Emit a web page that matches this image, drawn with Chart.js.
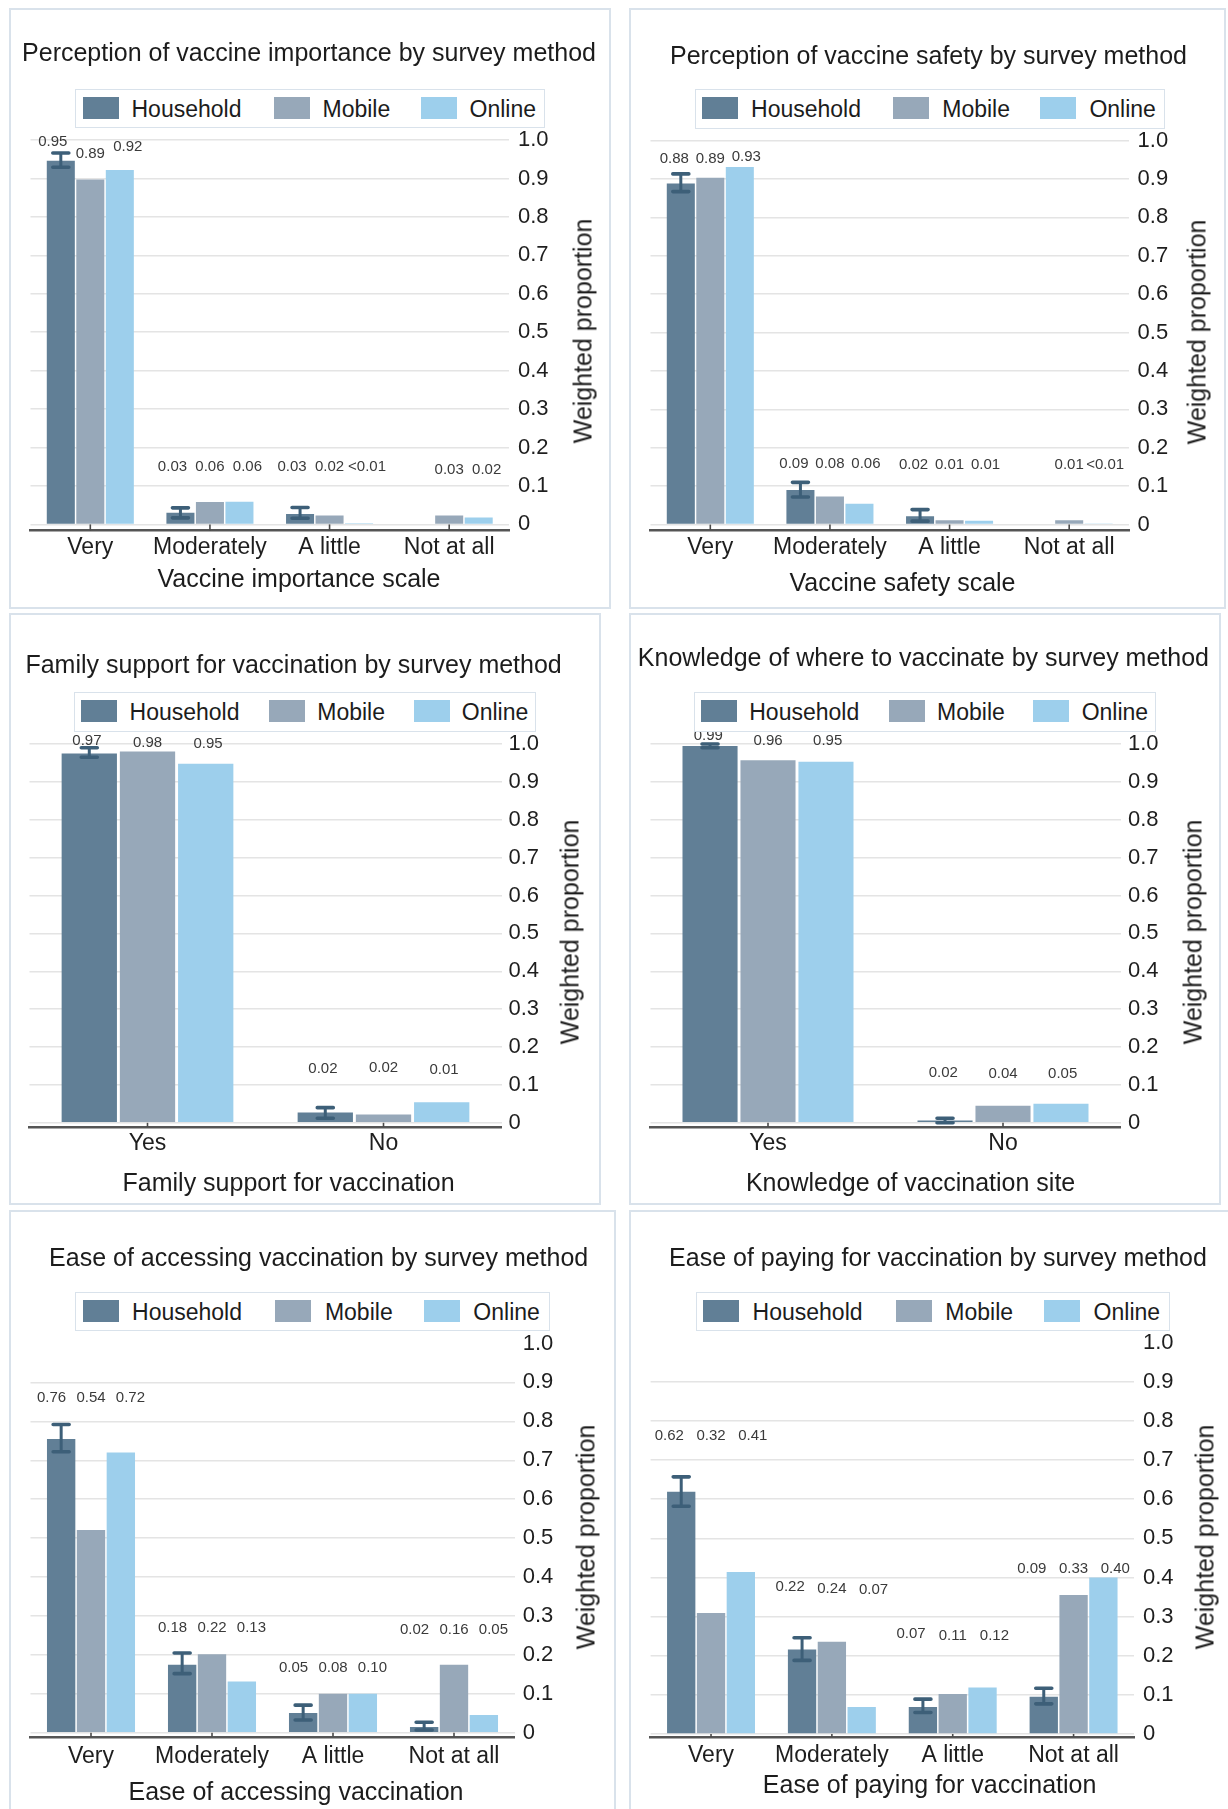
<!DOCTYPE html>
<html>
<head>
<meta charset="utf-8">
<script src="https://cdn.jsdelivr.net/npm/chart.js@4.4.1/dist/chart.umd.min.js"></script>
<style>
html,body{margin:0;padding:0;background:#fff;overflow:hidden;}
#page{position:relative;width:1228px;height:1809px;overflow:hidden;font-family:"Liberation Sans",Arial,sans-serif;background:#fff;}
.frame{position:absolute;border:2px solid #d9e2eb;box-sizing:border-box;}
canvas{position:absolute;}
.t{position:absolute;white-space:nowrap;line-height:1;color:#1c1c1c;}
.legend{position:absolute;border:1.5px solid #d9e2eb;box-sizing:border-box;background:#fff;}
.sw{position:absolute;width:36px;height:22px;}
.lt{position:absolute;white-space:nowrap;line-height:1;font-size:23px;color:#1c1c1c;}
</style>
</head>
<body>
<div id="page"></div>
<script>
// ---------------- DATA ----------------
const surveyMethods = ['Household', 'Mobile', 'Online'];
const yTicks = [0, 0.1, 0.2, 0.3, 0.4, 0.5, 0.6, 0.7, 0.8, 0.9, 1.0];
const scaleCategories = ['Very', 'Moderately', 'A little', 'Not at all'];
const yesNoCategories = ['Yes', 'No'];

// Panel 1 - vaccine importance
const importanceHousehold     = [0.946, 0.030, 0.027, 0];
const importanceHouseholdLow  = [0.929, 0.017, 0.016, null];
const importanceHouseholdHigh = [0.966, 0.043, 0.044, null];
const importanceMobile        = [0.897, 0.058, 0.023, 0.023];
const importanceOnline        = [0.922, 0.059, 0.003, 0.018];
const importanceLabelsHousehold = ['0.95', '0.03', '0.03', ''];
const importanceLabelsMobile    = ['0.89', '0.06', '0.02', '0.03'];
const importanceLabelsOnline    = ['0.92', '0.06', '<0.01', '0.02'];
const importanceLabelLevel = [[0.995, 0.964, 0.983], 0.150, 0.150, 0.142];

// Panel 2 - vaccine safety
const safetyHousehold     = [0.888, 0.090, 0.022, 0];
const safetyHouseholdLow  = [0.867, 0.072, 0.009, null];
const safetyHouseholdHigh = [0.913, 0.110, 0.039, null];
const safetyMobile        = [0.903, 0.073, 0.011, 0.011];
const safetyOnline        = [0.931, 0.054, 0.010, 0.003];
const safetyLabelsHousehold = ['0.88', '0.09', '0.02', ''];
const safetyLabelsMobile    = ['0.89', '0.08', '0.01', '0.01'];
const safetyLabelsOnline    = ['0.93', '0.06', '0.01', '<0.01'];
const safetyLabelLevel = [[0.952, 0.952, 0.958], 0.157, 0.155, 0.155];

// Panel 3 - family support
const familyHousehold     = [0.975, 0.027];
const familyHouseholdLow  = [0.965, 0.012];
const familyHouseholdHigh = [0.990, 0.040];
const familyMobile        = [0.980, 0.022];
const familyOnline        = [0.948, 0.054];
const familyLabelsHousehold = ['0.97', '0.02'];
const familyLabelsMobile    = ['0.98', '0.02'];
const familyLabelsOnline    = ['0.95', '0.01'];
const familyLabelLevel = [[1.007, 1.003, 1.0], [0.143, 0.146, 0.141]];

// Panel 4 - knowledge of vaccination site
const siteHousehold     = [0.995, 0.006];
const siteHouseholdLow  = [0.990, 0.000];
const siteHouseholdHigh = [1.000, 0.012];
const siteMobile        = [0.957, 0.045];
const siteOnline        = [0.953, 0.050];
const siteLabelsHousehold = ['0.99', '0.02'];
const siteLabelsMobile    = ['0.96', '0.04'];
const siteLabelsOnline    = ['0.95', '0.05'];
const siteLabelLevel = [[1.022, 1.008, 1.008], [0.133, 0.130, 0.130]];

// Panel 5 - ease of access
const accessHousehold     = [0.755, 0.175, 0.051, 0.015];
const accessHouseholdLow  = [0.722, 0.152, 0.033, 0.007];
const accessHouseholdHigh = [0.792, 0.205, 0.071, 0.027];
const accessMobile        = [0.521, 0.202, 0.100, 0.175];
const accessOnline        = [0.720, 0.132, 0.100, 0.046];
const accessLabelsHousehold = ['0.76', '0.18', '0.05', '0.02'];
const accessLabelsMobile    = ['0.54', '0.22', '0.08', '0.16'];
const accessLabelsOnline    = ['0.72', '0.13', '0.10', '0.05'];
const accessLabelLevel = [0.860, 0.269, 0.166, 0.264];

// Panel 6 - ease of paying
const payHousehold     = [0.619, 0.216, 0.069, 0.095];
const payHouseholdLow  = [0.582, 0.188, 0.055, 0.077];
const payHouseholdHigh = [0.657, 0.246, 0.089, 0.117];
const payMobile        = [0.309, 0.236, 0.102, 0.355];
const payOnline        = [0.414, 0.069, 0.119, 0.400];
const payLabelsHousehold = ['0.62', '0.22', '0.07', '0.09'];
const payLabelsMobile    = ['0.32', '0.24', '0.11', '0.33'];
const payLabelsOnline    = ['0.41', '0.07', '0.12', '0.40'];
const payLabelLevel = [0.761, [0.375, 0.370, 0.367], [0.255, 0.251, 0.251], 0.423];

// ---------------- STYLE ----------------
const FONT = '"Liberation Sans", Arial, sans-serif';
const seriesColors = ['#617f96', '#97a8b9', '#9dcfec'];
const errColor = '#3d5f78';
const gridColor = '#e4e4e4';
const axisColor = '#555555';
const textColor = '#1e1e1e';

// ---------------- PANELS (layout in page pixels) ----------------
const panels = [
  { frame:[10,9,610,608], canvas:[10,9,610,608], plot:{l:30.5,r:509,y1:140,y0:524.4,axis:530.5}, topGrid:true, catPad:3.7, yPad:9, spread:1.27,
    title:'Perception of vaccine importance by survey method', titleX:309, titleBase:61,
    legend:[75,88.7,470,39.7], xTitle:'Vaccine importance scale', xTitleX:299, xTitleBase:587, yTitleX:583,
    cats:scaleCategories, series:[importanceHousehold, importanceMobile, importanceOnline],
    lo:importanceHouseholdLow, hi:importanceHouseholdHigh,
    labels:[importanceLabelsHousehold, importanceLabelsMobile, importanceLabelsOnline], levels:importanceLabelLevel },
  { frame:[630,9,1225,608], canvas:[630,9,1226,608], plot:{l:650.5,r:1129,y1:140.5,y0:524.6,axis:530}, topGrid:true, catPad:3.7, yPad:8.6, spread:1.22,
    title:'Perception of vaccine safety by survey method', titleX:928.5, titleBase:64,
    legend:[694.5,89,470.5,39.5], xTitle:'Vaccine safety scale', xTitleX:902.5, xTitleBase:591, yTitleX:1197,
    cats:scaleCategories, series:[safetyHousehold, safetyMobile, safetyOnline],
    lo:safetyHouseholdLow, hi:safetyHouseholdHigh,
    labels:[safetyLabelsHousehold, safetyLabelsMobile, safetyLabelsOnline], levels:safetyLabelLevel },
  { frame:[10,614,600,1204], canvas:[10,614,600,1204], plot:{l:29.5,r:501.5,y1:744,y0:1122.8,axis:1127}, topGrid:true, catPad:2.5, yPad:7, spread:1.04,
    title:'Family support for vaccination by survey method', titleX:293.6, titleBase:673,
    legend:[74,692,462,39.7], xTitle:'Family support for vaccination', xTitleX:288.6, xTitleBase:1191, yTitleX:569.5,
    cats:yesNoCategories, series:[familyHousehold, familyMobile, familyOnline],
    lo:familyHouseholdLow, hi:familyHouseholdHigh,
    labels:[familyLabelsHousehold, familyLabelsMobile, familyLabelsOnline], levels:familyLabelLevel },
  { frame:[630,614,1220,1204], canvas:[630,614,1221,1204], plot:{l:650.5,r:1120.5,y1:744,y0:1122.8,axis:1127}, topGrid:true, catPad:2.5, yPad:7.5, spread:1.03,
    title:'Knowledge of where to vaccinate by survey method', titleX:923.4, titleBase:666.6,
    legend:[693.7,692,462.2,39.7], xTitle:'Knowledge of vaccination site', xTitleX:910.6, xTitleBase:1191, yTitleX:1193,
    cats:yesNoCategories, series:[siteHousehold, siteMobile, siteOnline],
    lo:siteHouseholdLow, hi:siteHouseholdHigh,
    labels:[siteLabelsHousehold, siteLabelsMobile, siteLabelsOnline], levels:siteLabelLevel },
  { frame:[10,1211,615,1840], canvas:[10,1210,615,1809], plot:{l:30.5,r:514.5,y1:1343.5,y0:1732.8,axis:1736.8}, topGrid:false, catPad:6.2, yPad:8.2, spread:1.32,
    title:'Ease of accessing vaccination by survey method', titleX:318.7, titleBase:1266,
    legend:[75,1292,474.6,39.2], xTitle:'Ease of accessing vaccination', xTitleX:296, xTitleBase:1800, yTitleX:586,
    cats:scaleCategories, series:[accessHousehold, accessMobile, accessOnline],
    lo:accessHouseholdLow, hi:accessHouseholdHigh,
    labels:[accessLabelsHousehold, accessLabelsMobile, accessLabelsOnline], levels:accessLabelLevel },
  { frame:[630,1211,1260,1840], canvas:[630,1210,1228,1809], plot:{l:650.6,r:1134,y1:1342.6,y0:1734,axis:1737}, topGrid:false, catPad:5.2, yPad:9, spread:1.4,
    title:'Ease of paying for vaccination by survey method', titleX:938, titleBase:1266,
    legend:[695.6,1292,474.2,39.2], xTitle:'Ease of paying for vaccination', xTitleX:929.6, xTitleBase:1793, yTitleX:1205,
    cats:scaleCategories, series:[payHousehold, payMobile, payOnline],
    lo:payHouseholdLow, hi:payHouseholdHigh,
    labels:[payLabelsHousehold, payLabelsMobile, payLabelsOnline], levels:payLabelLevel }
];

// legend item offsets for a 470px-wide legend box
const legendSwatchOffsets = [8, 199, 346];
const legendTextOffsets = [57, 248, 395];

Chart.defaults.font.family = FONT;

const page = document.getElementById('page');

function el(tag, cls, styles, text) {
  const e = document.createElement(tag);
  if (cls) e.className = cls;
  Object.assign(e.style, styles || {});
  if (text !== undefined) e.textContent = text;
  page.appendChild(e);
  return e;
}

function extrasPlugin(p) {
  return {
    id: 'panelExtras',
    afterDatasetsDraw(chart) {
      const {ctx, chartArea, scales} = chart;
      const x = scales.x, y = scales.y;
      const base = y.getPixelForValue(0);
      ctx.save();
      // category tick marks between axis line and baseline
      ctx.strokeStyle = '#4a4a4a';
      ctx.lineWidth = 1.6;
      x.ticks.forEach((t, i) => {
        const px = x.getPixelForTick(i);
        ctx.beginPath();
        ctx.moveTo(px, base);
        ctx.lineTo(px, chartArea.bottom);
        ctx.stroke();
      });
      // error bars on Household series
      const meta0 = chart.getDatasetMeta(0);
      ctx.strokeStyle = errColor;
      meta0.data.forEach((bar, i) => {
        const lo = p.lo[i], hi = p.hi[i];
        if (lo == null || hi == null) return;
        const yl = y.getPixelForValue(lo), yh = y.getPixelForValue(hi);
        ctx.lineWidth = 3;
        ctx.lineCap = 'butt';
        ctx.beginPath();
        ctx.moveTo(bar.x, yl); ctx.lineTo(bar.x, yh);
        ctx.stroke();
        ctx.lineWidth = 3.6;
        ctx.lineCap = 'round';
        ctx.beginPath();
        ctx.moveTo(bar.x - 8, yl); ctx.lineTo(bar.x + 8, yl);
        ctx.moveTo(bar.x - 8, yh); ctx.lineTo(bar.x + 8, yh);
        ctx.stroke();
      });
      // value labels
      ctx.font = '15px ' + FONT;
      ctx.fillStyle = '#3a3a3a';
      ctx.textAlign = 'center';
      ctx.textBaseline = 'middle';
      p.labels.forEach((arr, d) => {
        const meta = chart.getDatasetMeta(d);
        arr.forEach((txt, i) => {
          if (!txt) return;
          const lv = Array.isArray(p.levels[i]) ? p.levels[i][d] : p.levels[i];
          const cx = x.getPixelForTick(i);
          const lx = cx + (meta.data[i].x - cx) * p.spread;
          ctx.fillText(txt, lx, y.getPixelForValue(lv));
        });
      });
      ctx.restore();
    }
  };
}

panels.forEach(p => {
  // frame
  const [fl, ft, fr, fb] = p.frame;
  el('div', 'frame', {left:(fl-1)+'px', top:(ft-1)+'px', width:(fr-fl+2)+'px', height:(fb-ft+2)+'px'});

  // canvas
  const [cl, ct, cr, cb] = p.canvas;
  const cw = cr - cl, ch = cb - ct;
  const cv = el('canvas', null, {left:cl+'px', top:ct+'px', width:cw+'px', height:ch+'px'});
  cv.width = cw; cv.height = ch;

  const pl = p.plot;
  const unitPx = pl.y0 - pl.y1;           // pixels per 1.0
  const yMin = -(pl.axis - pl.y0) / unitPx; // gap between baseline and axis line

  new Chart(cv, {
    type: 'bar',
    data: {
      labels: p.cats,
      datasets: surveyMethods.map((m, k) => ({
        label: m,
        data: p.series[k],
        backgroundColor: seriesColors[k],
        borderWidth: 0,
        categoryPercentage: 0.74,
        barPercentage: 0.95
      }))
    },
    options: {
      responsive: false,
      maintainAspectRatio: false,
      animation: false,
      devicePixelRatio: 1,
      events: [],
      layout: { padding: { left: pl.l - cl, top: pl.y1 - ct, right: 0, bottom: 0 } },
      plugins: { legend: { display: false }, title: { display: false }, tooltip: { enabled: false } },
      scales: {
        x: {
          grid: { display: false, drawTicks: false },
          border: { display: true, color: axisColor, width: 2.5 },
          ticks: { font: { size: 23, family: FONT }, color: textColor, padding: p.catPad, maxRotation: 0, autoSkip: false },
          afterFit(s) { s.height = cb - pl.axis; }
        },
        y: {
          position: 'right',
          min: yMin,
          max: 1,
          afterBuildTicks(s) { s.ticks = yTicks.map(v => ({ value: v })); },
          grid: {
            drawTicks: false,
            lineWidth: 1.5,
            color: c => (c.tick && c.tick.value === 1 && !p.topGrid) ? 'rgba(0,0,0,0)' : gridColor
          },
          border: { display: false },
          ticks: {
            font: { size: 22, family: FONT },
            color: textColor,
            padding: p.yPad,
            callback: v => (v === 0 ? '0' : Number(v).toFixed(1))
          },
          afterFit(s) { s.width = cr - pl.r; }
        }
      }
    },
    plugins: [extrasPlugin(p)]
  });

  // panel title
  el('div', 't', {left:p.titleX+'px', top:(p.titleBase - 0.8465*25)+'px', fontSize:'25px', transform:'translateX(-50%)'}, p.title);

  // legend
  const [ll, lt, lw, lh] = p.legend;
  const lg = el('div', 'legend', {left:ll+'px', top:lt+'px', width:lw+'px', height:lh+'px'});
  const sc = lw / 470;
  surveyMethods.forEach((m, k) => {
    const sw = document.createElement('div');
    sw.className = 'sw';
    Object.assign(sw.style, {left:(legendSwatchOffsets[k]*sc - 1.5)+'px', top:((lh-22)/2 - 1.5)+'px', background:seriesColors[k]});
    lg.appendChild(sw);
    const tx = document.createElement('div');
    tx.className = 'lt';
    tx.textContent = m;
    Object.assign(tx.style, {left:(legendTextOffsets[k]*sc - 1.5)+'px', top:(lh/2 - 10.5 - 1.5)+'px'});
    lg.appendChild(tx);
  });

  // x-axis title
  el('div', 't', {left:p.xTitleX+'px', top:(p.xTitleBase - 0.8465*25)+'px', fontSize:'25px', transform:'translateX(-50%)'}, p.xTitle);

  // y-axis title (reads bottom to top)
  el('div', 't', {left:p.yTitleX+'px', top:((pl.y1 + pl.y0)/2 - 1)+'px', fontSize:'25px', transform:'translate(-50%,-50%) rotate(-90deg)'}, 'Weighted proportion');
});
</script>
</body>
</html>
